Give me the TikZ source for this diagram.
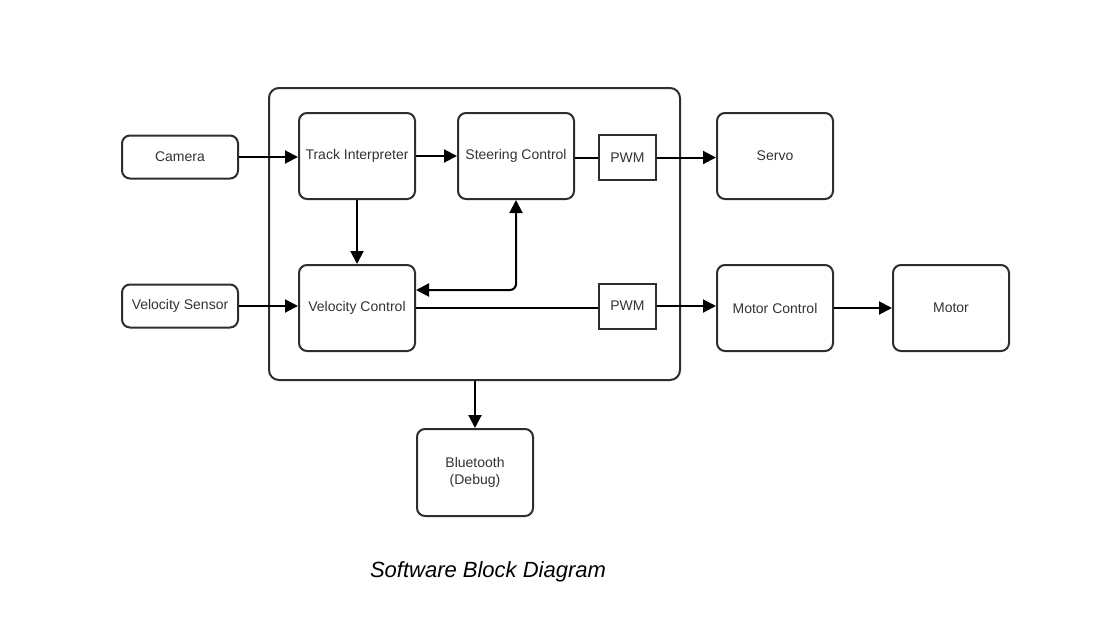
\documentclass[tikz,border=0pt]{standalone}
\usepackage{fontspec}
\setmainfont{Liberation Sans}
\usetikzlibrary{arrows.meta,positioning}
\definecolor{boxline}{HTML}{2E2E2E}
\definecolor{txt}{HTML}{333333}
\tikzset{
  blk/.style={draw=boxline, line width=2pt, rounded corners=8pt, minimum width=116pt, minimum height=86pt, inner sep=0pt, align=center, text=txt, font=\fontsize{14}{17}\selectfont},
  small/.style={blk, minimum height=43pt},
  pwmbox/.style={draw=boxline, line width=2pt, minimum width=57pt, minimum height=45pt, inner sep=0pt, text=txt, font=\fontsize{14}{17}\selectfont},
  cont/.style={draw=boxline, line width=2pt, rounded corners=10pt},
  conn/.style={draw=black, line width=2pt},
  arr/.style={conn, -{Triangle[length=13pt,width=13pt]}},
  darr/.style={conn, {Triangle[length=13pt,width=13pt]}-{Triangle[length=13pt,width=13pt]}},
}
\begin{document}
\begin{tikzpicture}[x=1pt,y=-1pt]
\useasboundingbox[fill=white] (0,0) rectangle (1098,633);
\node[cont, minimum width=411pt, minimum height=292pt] (container) at (474.5,234) {};
\node[small] (camera) at (180,157) {\raisebox{-2pt}{Camera}};
\node[small] (vsens) at (180,306) {\raisebox{-2pt}{Velocity Sensor}};
\node[blk] (track) at (357,156) {\raisebox{-2pt}{Track Interpreter}};
\node[blk] (steer) at (516,156) {\raisebox{-2pt}{Steering Control}};
\node[pwmbox] (pwm1) at (627.5,157.5) {\raisebox{-2pt}{PWM}};
\node[blk] (servo) at (775,156) {\raisebox{-2pt}{Servo}};
\node[blk] (vctrl) at (357,308) {\raisebox{-2pt}{Velocity Control}};
\node[pwmbox] (pwm2) at (627.5,306) {\raisebox{-2pt}{PWM}};
\node[blk] (mctrl) at (775,308) {\raisebox{-2pt}{Motor Control}};
\node[blk] (motor) at (951,308) {\raisebox{-2pt}{Motor}};
\node[blk, minimum height=87pt] (bt) at (475,472.5) {Bluetooth\\ (Debug)};
\node[text=black, font=\fontsize{22}{26}\selectfont\itshape] (caption) at (488,572) {Software Block Diagram};

\draw[arr] (camera.east) -- (camera.east -| track.west);
\draw[arr] (track.east) -- (steer.west);
\draw[conn] (steer.east |- pwm1.west) -- (pwm1.west);
\draw[arr] (pwm1.east) -- (pwm1.east -| servo.west);
\draw[arr] (track.south) -- (vctrl.north);
\draw[darr, rounded corners=6pt] ([yshift=18pt]vctrl.east) -| (steer.south);
\draw[arr] (vsens.east) -- (vsens.east -| vctrl.west);
\draw[conn] (vctrl.east) -- (vctrl.east -| pwm2.west);
\draw[arr] (pwm2.east) -- (pwm2.east -| mctrl.west);
\draw[arr] (mctrl.east) -- (motor.west);
\draw[arr] (container.south -| bt.north) -- (bt.north);
\end{tikzpicture}
\end{document}
